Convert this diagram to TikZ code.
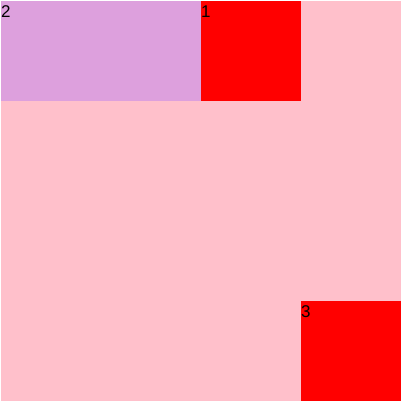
\documentclass[tikz,border=0pt]{standalone}
\usepackage{fontspec}
\setmainfont{Liberation Sans}
\definecolor{pinkbg}{RGB}{255,192,203}
\definecolor{plumc}{RGB}{221,160,221}
\begin{document}
\begin{tikzpicture}[x=1pt,y=-1pt,
  lbl/.style={anchor=north west,inner sep=0pt,font=\fontsize{17}{17}\selectfont}]
\useasboundingbox (0,0) rectangle (403,403);
\fill[white] (0,0) rectangle (403,403);
\fill[pinkbg] (1,1) rectangle (401,401);
\fill[plumc] (1,1) rectangle (201,101);
\fill[red] (201,1) rectangle (301,101);
\fill[red] (301,301) rectangle (401,401);
\node[lbl] (l2) at (1,5.5) {2};
\node[lbl] (l1) at (201,5.5) {1};
\node[lbl] (l3) at (301,305.5) {3};
\end{tikzpicture}
\end{document}
